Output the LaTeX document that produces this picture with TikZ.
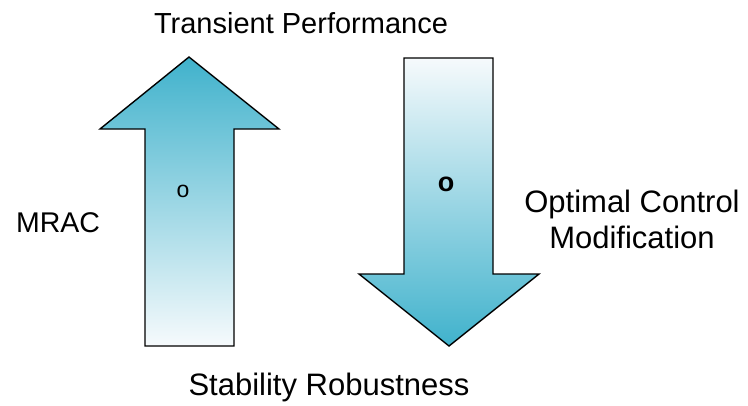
\documentclass[tikz,border=0pt]{standalone}
\usepackage{fontspec}
\setmainfont{Liberation Sans}
\usepackage{tikz}
\usetikzlibrary{positioning}

\definecolor{arrowteal}{RGB}{64,178,204}
\definecolor{arrowpale}{RGB}{246,250,252}

\tikzset{
  bigarrow/.style = {draw=black, line width=1.4pt, line join=miter},
  label/.style = {font=\fontsize{#1}{36}\selectfont, inner sep=0pt, anchor=base},
  label/.default = 29,
  dot/.style = {font=\fontsize{#1}{#1}\selectfont, inner sep=0pt}
}

\begin{document}
\begin{tikzpicture} [x=1pt, y=-1pt]
    \useasboundingbox (0,0) rectangle (748,405);

    % up arrow (MRAC)
    \path [bigarrow, top color=arrowteal, bottom color=arrowpale]
      (189,57) -- (279,129) -- (234,129) -- (234,346)
      -- (145,346) -- (145,129) -- (100,129) -- cycle;
    % down arrow (optimal control modification)
    \path [bigarrow, top color=arrowpale, bottom color=arrowteal]
      (404,58) -- (493,58) -- (493,274) -- (539,274)
      -- (449,346) -- (359,274) -- (404,274) -- cycle;

    \node (upo) [dot=23] at (183,191) {o};
    \node (downo) [dot=27] at (446,184) {\bfseries o};

    \node (trans) [label=29] at (301,33) {Transient Performance};
    \node (stab) [label=31] at (329,395) {Stability Robustness};
    \node (mrac) [label=28.5] at (58,232) {MRAC};
    \node (ocm) [label=31, align=center] at (632,248)
      {Optimal Control\\Modification};
\end{tikzpicture}
\end{document}
